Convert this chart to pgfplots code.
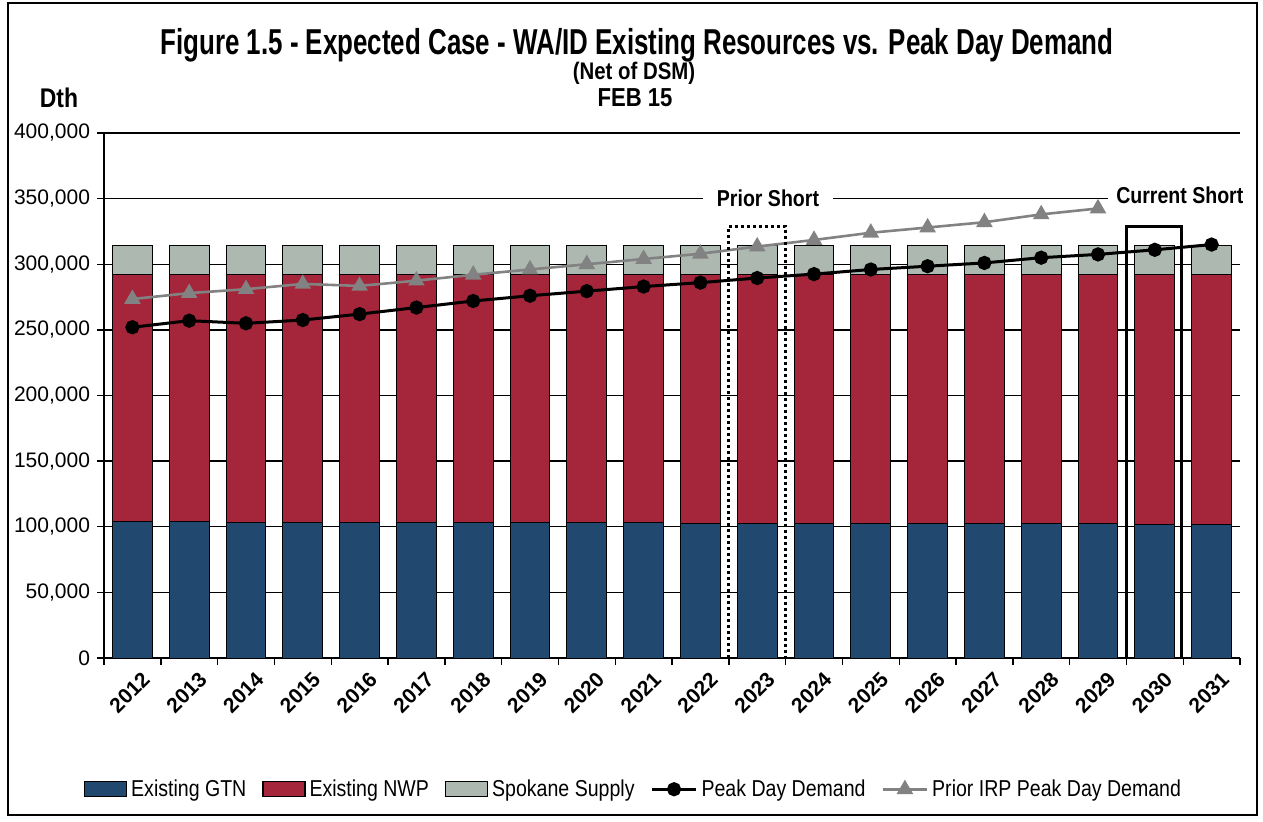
\documentclass[border=0pt]{standalone}
\usepackage{pgfplots}
\pgfplotsset{compat=1.18}
\usepackage{fontspec}
\setmainfont{Liberation Sans}
\newfontfamily\condt{Liberation Sans}[FakeStretch=0.72]
\newfontfamily\condl{Liberation Sans}[FakeStretch=0.85]

\definecolor{gtn}{RGB}{33,72,110}
\definecolor{nwp}{RGB}{165,38,58}
\definecolor{spk}{RGB}{172,184,176}
\definecolor{prior}{RGB}{130,130,130}

\pgfplotsset{
  barleg/.style={legend image code/.code={\draw[##1,line width=0.6bp] (0bp,-3.8bp) rectangle (21bp,4bp);}},
  linleg/.style={legend image code/.code={\draw[##1,mark repeat=2,mark phase=2] plot coordinates {(0bp,0bp) (11bp,0bp) (22bp,0bp)};}},
  common/.style={
    scale only axis, width=568bp, height=262.5bp,
    at={(52bp,82bp)}, anchor=south west,
    xmin=-0.5, xmax=19.5, ymin=0, ymax=400000,
  },
}

\begin{document}
\begin{tikzpicture}
\path[use as bounding box] (0,0) rectangle (631.5bp,411bp);

% bars
\begin{axis}[common,
  axis x line*=bottom, axis y line*=left,
  axis line style={line width=0.7bp},
  tick align=outside,
  major tick length=3.5bp,
  tick style={black, line width=0.7bp},
  ytick={0,50000,...,400000},
  scaled y ticks=false,
  /pgf/number format/fixed,
  /pgf/number format/1000 sep={,},
  /pgf/number format/assume math mode=true,
  yticklabel style={font=\fontsize{10.5bp}{12bp}\selectfont},
  ymajorgrids, grid style={black, line width=0.7bp},
  xtick={-0.5,0.5,...,19.5}, xticklabel=\empty,
  extra x ticks={0,1,...,19},
  extra x tick labels={2012,2013,2014,2015,2016,2017,2018,2019,2020,2021,2022,2023,2024,2025,2026,2027,2028,2029,2030,2031},
  extra x tick style={major tick length=0pt,
    tick label style={rotate=45, anchor=north east, xshift=2bp, yshift=-4bp,
      font=\bfseries\fontsize{10.5bp}{12bp}\selectfont}},
  ybar stacked, bar width=0.7,
]
\addplot[fill=gtn, draw=black, line width=0.5bp] coordinates {
 (0,103800) (1,103700) (2,103600) (3,103500) (4,103400) (5,103300) (6,103200) (7,103100) (8,103000) (9,102900)
 (10,102800) (11,102700) (12,102600) (13,102500) (14,102400) (15,102300) (16,102200) (17,102100) (18,102000) (19,101900)};
\addplot[fill=nwp, draw=black, line width=0.5bp] coordinates {
 (0,188700) (1,188800) (2,188900) (3,189000) (4,189100) (5,189200) (6,189300) (7,189400) (8,189500) (9,189600)
 (10,189700) (11,189800) (12,189900) (13,190000) (14,190100) (15,190200) (16,190300) (17,190400) (18,190500) (19,190600)};
\addplot[fill=spk, draw=black, line width=0.5bp] coordinates {
 (0,21500) (1,21500) (2,21500) (3,21500) (4,21500) (5,21500) (6,21500) (7,21500) (8,21500) (9,21500)
 (10,21500) (11,21500) (12,21500) (13,21500) (14,21500) (15,21500) (16,21500) (17,21500) (18,21500) (19,21500)};
\end{axis}

% lines, annotations, legend
\begin{axis}[common, hide axis, clip=false,
  legend columns=5,
  legend style={at={(0.467,-0.25)}, anchor=center, draw=none, fill=none,
    font=\condl\fontsize{11.5bp}{13bp}\selectfont,
    /tikz/every even column/.append style={column sep=6bp},
    inner sep=0pt, row sep=0pt},
  legend cell align=left,
]
\addlegendimage{barleg, fill=gtn, draw=black}
\addlegendentry{Existing GTN}
\addlegendimage{barleg, fill=nwp, draw=black}
\addlegendentry{Existing NWP}
\addlegendimage{barleg, fill=spk, draw=black}
\addlegendentry{Spokane Supply}

\addplot[black, line width=1.5bp, mark=*, mark size=2.8bp, linleg] coordinates {
 (0,252000) (1,257000) (2,255000) (3,257500) (4,262000) (5,267000) (6,272000) (7,276000) (8,279500) (9,283000)
 (10,286000) (11,289500) (12,292500) (13,296000) (14,298500) (15,301000) (16,305000) (17,307500) (18,311000) (19,315000)};
\addlegendentry{Peak Day Demand}
\addplot[prior, line width=1.3bp, mark=triangle*, mark size=3.5bp, mark options={fill=prior, draw=prior}, linleg] coordinates {
 (0,273500) (1,278000) (2,281000) (3,285000) (4,283500) (5,287500) (6,292000) (7,296000) (8,300000) (9,304000)
 (10,308000) (11,313500) (12,318500) (13,324000) (14,328000) (15,332000) (16,338000) (17,342500)};
\addlegendentry{Prior IRP Peak Day Demand}

\draw[black, line width=1.6bp, dash pattern=on 1.6bp off 1.4bp] (axis cs:10.5,0) -- (axis cs:10.5,329000) -- (axis cs:11.5,329000) -- (axis cs:11.5,0);
\draw[black, line width=1.4bp] (axis cs:17.5,0) -- (axis cs:17.5,329000) -- (axis cs:18.47,329000) -- (axis cs:18.47,0);
\node[fill=white, inner xsep=7bp, inner ysep=1bp, font=\condl\bfseries\fontsize{11.5bp}{13bp}\selectfont] at (axis cs:11.19,350000) {Prior Short};
\node[fill=white, inner xsep=4bp, inner ysep=1bp, font=\condl\bfseries\fontsize{11.5bp}{13bp}\selectfont] at (axis cs:18.44,352500) {Current Short};
\end{axis}

% titles
\node[font=\condt\bfseries\fontsize{18bp}{20bp}\selectfont] at (318.5bp,388.5bp) {Figure 1.5 - Expected Case - WA/ID Existing Resources vs. Peak Day Demand};
\node[font=\condl\bfseries\fontsize{12bp}{13bp}\selectfont] at (317bp,374.5bp) {(Net of DSM)};
\node[font=\condl\bfseries\fontsize{13bp}{14bp}\selectfont] at (317.5bp,362bp) {FEB 15};
\node[font=\condl\bfseries\fontsize{13.5bp}{14bp}\selectfont] at (29.5bp,362bp) {Dth};

\draw[line width=1bp] (4bp,3.5bp) rectangle (628.5bp,409.5bp);
\end{tikzpicture}
\end{document}
